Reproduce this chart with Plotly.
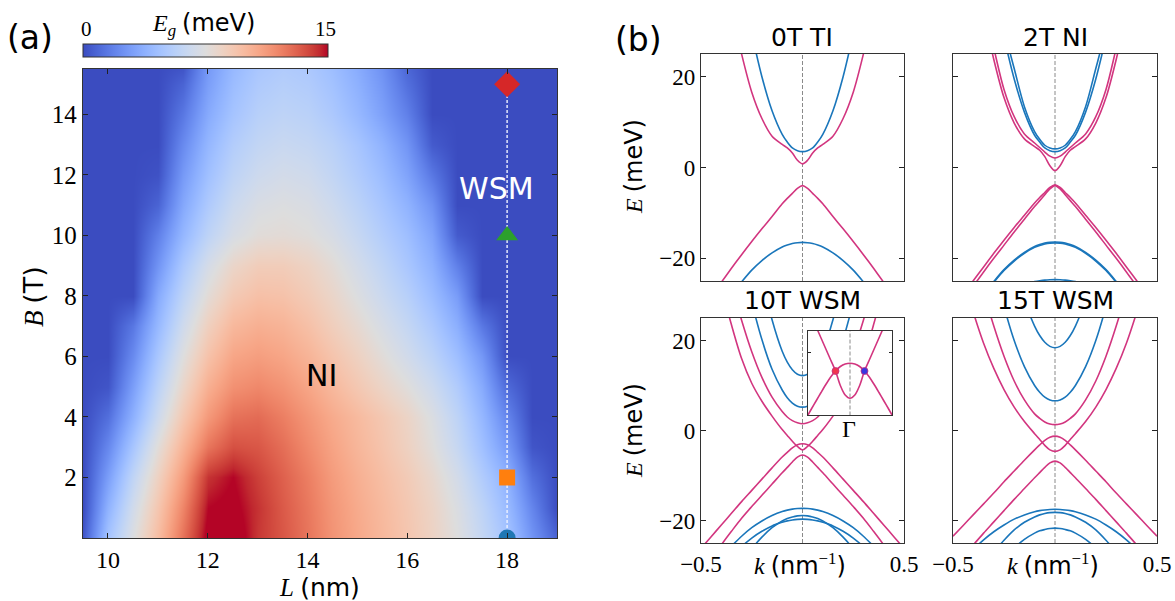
import plotly.graph_objects as go

W, H = 1175, 601
SERIF = "Liberation Serif"
SANS = "DejaVu Sans"

# ---------------- panel (a): gap map E_g(L, B) in meV ----------------
L_NM = [9.5, 10.0, 10.5, 11.0, 11.5, 12.0, 12.5, 13.0, 13.5, 14.0,
        14.5, 15.0, 15.5, 16.0, 16.5, 17.0, 17.5, 18.0, 18.5, 19.0]
B_T = [0, 1, 2, 3, 4, 5, 6, 7, 8, 9, 10, 11, 12, 13, 14, 15, 15.5]

EG_B00 = [0.3, 4.8, 7.4, 9.8, 12.6, 15.4, 15.8, 14.2, 13.4, 12.5, 11.5, 10.7, 10.0, 9.3, 8.5, 7.5, 6.2, 4.8, 2.6, 0.8]
EG_B01 = [0.0, 3.9, 6.8, 9.3, 12.0, 15.0, 15.3, 14.3, 13.3, 12.4, 11.4, 10.6, 9.9, 9.2, 8.4, 7.3, 5.9, 4.3, 2.0, 0.0]
EG_B02 = [0.0, 3.0, 6.0, 8.6, 11.2, 14.3, 15.0, 14.0, 13.1, 12.2, 11.2, 10.4, 9.7, 9.0, 8.1, 6.9, 5.3, 3.8, 1.2, 0.0]
EG_B03 = [0.0, 2.1, 4.9, 7.7, 10.2, 12.5, 13.6, 13.4, 12.7, 11.8, 10.9, 10.1, 9.4, 8.6, 7.6, 6.3, 4.6, 2.8, 0.3, 0.0]
EG_B04 = [0.0, 1.2, 3.8, 6.6, 9.2, 11.3, 12.6, 12.8, 12.2, 11.4, 10.6, 9.9, 9.2, 8.4, 7.3, 5.9, 4.1, 2.0, 0.0, 0.0]
EG_B05 = [0.0, 0.3, 3.0, 5.8, 8.3, 10.4, 11.6, 11.9, 11.5, 10.8, 10.0, 9.2, 8.4, 7.6, 6.6, 5.3, 3.5, 1.0, 0.0, 0.0]
EG_B06 = [0.0, 0.0, 2.2, 5.0, 7.5, 9.5, 10.8, 11.1, 10.8, 10.2, 9.4, 8.6, 7.7, 6.8, 5.8, 4.5, 2.7, 0.0, 0.0, 0.0]
EG_B07 = [0.0, 0.0, 1.5, 4.2, 6.7, 8.7, 10.0, 10.4, 10.2, 9.6, 8.8, 8.0, 7.1, 6.2, 5.1, 3.7, 1.5, 0.0, 0.0, 0.0]
EG_B08 = [0.0, 0.0, 0.0, 3.5, 5.9, 7.8, 9.1, 9.6, 9.5, 9.0, 8.3, 7.4, 6.5, 5.6, 4.4, 2.9, 0.0, 0.0, 0.0, 0.0]
EG_B09 = [0.0, 0.0, 0.0, 2.6, 5.1, 7.0, 8.3, 8.9, 8.9, 8.5, 7.8, 6.9, 6.0, 5.0, 3.8, 1.8, 0.0, 0.0, 0.0, 0.0]
EG_B10 = [0.0, 0.0, 0.0, 1.8, 4.1, 5.9, 7.1, 7.7, 7.8, 7.6, 7.1, 6.3, 5.4, 4.5, 3.2, 0.5, 0.0, 0.0, 0.0, 0.0]
EG_B11 = [0.0, 0.0, 0.0, 0.8, 3.4, 5.2, 6.5, 7.2, 7.4, 7.2, 6.6, 5.8, 4.9, 3.9, 2.5, 0.0, 0.0, 0.0, 0.0, 0.0]
EG_B12 = [0.0, 0.0, 0.0, 0.2, 2.8, 4.6, 5.9, 6.6, 6.9, 6.7, 6.1, 5.3, 4.4, 3.2, 1.5, 0.0, 0.0, 0.0, 0.0, 0.0]
EG_B13 = [0.0, 0.0, 0.0, 0.0, 2.2, 4.1, 5.4, 6.1, 6.4, 6.2, 5.7, 4.9, 3.9, 2.6, 0.5, 0.0, 0.0, 0.0, 0.0, 0.0]
EG_B14 = [0.0, 0.0, 0.0, 0.0, 1.5, 3.5, 4.8, 5.6, 5.9, 5.7, 5.1, 4.2, 3.1, 1.8, 0.0, 0.0, 0.0, 0.0, 0.0, 0.0]
EG_B15 = [0.0, 0.0, 0.0, 0.0, 0.8, 3.0, 4.4, 5.2, 5.5, 5.3, 4.7, 3.8, 2.7, 1.2, 0.0, 0.0, 0.0, 0.0, 0.0, 0.0]
EG_B155 = [0.0, 0.0, 0.0, 0.0, 0.3, 2.8, 4.2, 5.0, 5.3, 5.1, 4.5, 3.6, 2.5, 0.9, 0.0, 0.0, 0.0, 0.0, 0.0, 0.0]

EG_RANGE = [0, 15]
A_XTICKS = [10, 12, 14, 16, 18]
A_YTICKS = [2, 4, 6, 8, 10, 12, 14]

STATE_L = [18, 18, 18, 18]
STATE_B = [0, 2, 10, 15]
STATE_SYMBOLS = ["circle", "square", "triangle-up", "diamond"]
STATE_COLORS = ["#1f77b4", "#ff7f0e", "#2ca02c", "#d62728"]
STATE_SIZES = [17, 16, 19, 20]

# ---------------- panel (b): bands E(k), k >= 0 (bands are even in k) ----------------
K_HALF = [0, 0.025, 0.05, 0.075, 0.1, 0.15, 0.2, 0.25, 0.3, 0.35, 0.4, 0.45, 0.5]

# 0T TI
T0_BLUE_C = [3.5, 3.7, 4.3, 5.6, 7.3, 12.5, 20.0, 29.5, 40, 52, 65, 79, 94]
T0_PINK_C = [0.8, 1.6, 3.2, 4.3, 5.1, 6.9, 10.8, 16.6, 25.0, 35, 46, 58, 71]
T0_PINK_V = [-4.0, -4.6, -5.7, -6.8, -8.0, -10.8, -13.5, -16.3, -19.2, -22.2, -25.3, -28.5, -31.5]
T0_BLUE_V = [-16.5, -16.56, -16.75, -17.07, -17.5, -18.8, -20.5, -22.6, -25.2, -28, -31, -34, -37.5]

# 2T NI
T2_BLUE_C1 = [3.5, 3.7, 4.3, 5.6, 7.1, 12.2, 19.5, 28.7, 39, 51, 64, 78, 93]
T2_BLUE_C2 = [4.1, 4.3, 4.9, 6.2, 7.9, 13.4, 21.8, 30.5, 41, 53, 66, 80, 95]
T2_PINK_C1 = [-0.7, 0.4, 2.4, 3.8, 4.6, 6.3, 9.8, 15.4, 23.8, 34, 45, 57, 70]
T2_PINK_C2 = [2.1, 2.5, 3.4, 4.4, 5.4, 7.4, 11.2, 17.2, 26.3, 36, 47, 59, 72]
T2_PINK_V1 = [-3.8, -4.4, -5.5, -6.6, -7.8, -10.5, -13.2, -16.0, -18.9, -21.9, -24.9, -28.0, -31.0]
T2_PINK_V2 = [-4.0, -4.7, -6.0, -7.3, -8.6, -11.4, -14.2, -17.1, -20.0, -23.0, -26.1, -29.2, -32.3]
T2_BLUE_V1 = [-16.4, -16.46, -16.65, -16.97, -17.4, -18.7, -20.4, -22.5, -25.1, -27.9, -31, -34, -37.5]
T2_BLUE_V2 = [-16.6, -16.66, -16.85, -17.17, -17.6, -18.9, -20.6, -22.7, -25.3, -28.1, -31.2, -34.2, -37.7]
T2_BLUE_V3 = [-24.7, -24.73, -24.8, -24.93, -25.1, -25.6, -26.4, -27.3, -28.5, -30, -31.5, -33, -35]

# 10T WSM
T10_BLUE_C1 = [12.2, 12.5, 13.5, 15.2, 17.6, 24.6, 34, 45, 57, 70, 84, 99, 115]
T10_BLUE_C2 = [5.2, 5.4, 6.1, 7.3, 9.0, 13.6, 20.2, 28.5, 38, 49, 61, 74, 88]
T10_PINK_C1 = [1.5, 1.7, 2.2, 3.0, 4.2, 7.4, 11.8, 17.5, 24.5, 32.5, 41.5, 51.5, 62]
T10_PINK_C2 = [-4.35, -3.55, -2.4, -1.1, 0.2, 3.2, 6.5, 10.5, 16.0, 23.5, 32, 42, 53]
T10_PINK_V1 = [-2.95, -3.15, -3.85, -4.85, -5.9, -8.3, -10.8, -13.3, -15.8, -18.4, -21.0, -23.6, -26.2]
T10_PINK_V2 = [-5.45, -5.9, -7.0, -8.2, -9.4, -11.9, -14.4, -16.9, -19.5, -22.4, -25.4, -28.4, -31.4]
T10_BLUE_V1 = [-17.3, -17.34, -17.47, -17.69, -18.0, -18.9, -20.1, -21.6, -23.5, -25.7, -28, -30.5, -33]
T10_BLUE_V2 = [-18.9, -18.97, -19.2, -19.57, -20.1, -21.6, -23.7, -26.3, -29.5, -33, -37, -41, -45]
T10_BLUE_V3 = [-19.7, -19.74, -19.87, -20.08, -20.4, -21.2, -22.4, -23.9, -25.8, -28, -30.5, -33, -36]

# 10T inset near Gamma
INSET_K = [0, 0.01, 0.02, 0.03, 0.04, 0.05, 0.06, 0.07, 0.08, 0.09]
INSET_CAP = [-2.95, -2.98, -3.08, -3.26, -3.50, -3.80, -4.12, -4.45, -4.78, -5.12]
INSET_CUP = [-4.35, -4.22, -3.84, -3.26, -2.82, -2.38, -1.94, -1.50, -1.06, -0.62]
WEYL_K = [-0.03, 0.03]
WEYL_E = [-3.26, -3.26]

# 15T WSM
T15_BLUE_C1 = [18.4, 18.7, 19.6, 21.1, 23.2, 29, 37, 47, 59, 72, 87, 103, 120]
T15_BLUE_C2 = [6.6, 6.8, 7.4, 8.5, 10.0, 14.2, 20.0, 27.6, 37, 48, 60, 73, 87]
T15_PINK_C1 = [1.3, 1.45, 1.9, 2.7, 3.7, 6.8, 11.0, 16.5, 23.2, 31, 40, 50, 61]
T15_PINK_C2 = [-4.64, -4.3, -3.3, -2.0, -0.7, 2.0, 5.2, 9.1, 13.8, 19.4, 26.2, 34, 43]
T15_PINK_V1 = [-1.25, -1.5, -2.2, -3.2, -4.3, -6.6, -9.0, -11.4, -13.9, -16.3, -18.7, -21.1, -23.5]
T15_PINK_V2 = [-6.8, -7.2, -8.2, -9.35, -10.5, -12.9, -15.3, -17.8, -20.3, -22.8, -25.4, -28, -30.6]
T15_BLUE_V1 = [-17.5, -17.54, -17.65, -17.81, -18.05, -18.75, -19.7, -21.0, -22.5, -24.3, -26.4, -28.7, -31.2]
T15_BLUE_V2 = [-18.2, -18.26, -18.45, -18.75, -19.2, -20.4, -22.1, -24.4, -27.0, -30, -33, -36.5, -40]
T15_BLUE_V3 = [-21.7, -21.77, -22.0, -22.3, -22.8, -24.2, -26.1, -28.5, -31, -34, -37, -40, -44]

PANEL_TITLES = ["0T TI", "2T NI", "10T WSM", "15T WSM"]
E_TICKS = [-20, 0, 20]
K_TICKS = [-0.5, 0.5]

# ---------------- styles ----------------
BLUE = "#1a76bb"
PINK = "#d2357f"
COOLWARM = [
    [0.0, "rgb(59,76,192)"], [0.03125, "rgb(68,90,204)"], [0.0625, "rgb(77,104,215)"],
    [0.09375, "rgb(87,117,225)"], [0.125, "rgb(98,130,234)"], [0.15625, "rgb(108,142,241)"],
    [0.1875, "rgb(119,154,247)"], [0.21875, "rgb(130,165,251)"], [0.25, "rgb(141,176,254)"],
    [0.28125, "rgb(152,185,255)"], [0.3125, "rgb(163,194,255)"], [0.34375, "rgb(174,201,253)"],
    [0.375, "rgb(184,208,249)"], [0.40625, "rgb(194,213,244)"], [0.4375, "rgb(204,217,238)"],
    [0.46875, "rgb(213,219,230)"], [0.5, "rgb(221,221,221)"], [0.53125, "rgb(229,216,209)"],
    [0.5625, "rgb(236,211,197)"], [0.59375, "rgb(241,204,185)"], [0.625, "rgb(245,196,173)"],
    [0.65625, "rgb(247,187,160)"], [0.6875, "rgb(247,177,148)"], [0.71875, "rgb(247,166,135)"],
    [0.75, "rgb(244,154,123)"], [0.78125, "rgb(241,141,111)"], [0.8125, "rgb(236,127,99)"],
    [0.84375, "rgb(229,112,88)"], [0.875, "rgb(222,96,77)"], [0.90625, "rgb(213,80,66)"],
    [0.9375, "rgb(203,62,56)"], [0.96875, "rgb(192,40,47)"], [1.0, "rgb(180,4,38)"],
]


def px(x):
    return x / W


def py(y):
    return 1 - y / H


def mirror_k(kh):
    return [-k for k in reversed(kh[1:])] + list(kh)


def mirror_e(eh):
    return list(reversed(eh[1:])) + list(eh)


fig = go.Figure()

# ---- panel (a)
EG_ROWS = [EG_B00, EG_B01, EG_B02, EG_B03, EG_B04, EG_B05, EG_B06, EG_B07, EG_B08,
           EG_B09, EG_B10, EG_B11, EG_B12, EG_B13, EG_B14, EG_B15, EG_B155]
fig.add_trace(go.Heatmap(
    x=L_NM, y=B_T, z=EG_ROWS, zmin=EG_RANGE[0], zmax=EG_RANGE[1],
    colorscale=COOLWARM, zsmooth="best", hoverinfo="skip",
    colorbar=dict(orientation="h", x=px(83), xanchor="left", y=py(44), yanchor="top",
                  len=245, lenmode="pixels", thickness=13, thicknessmode="pixels",
                  xpad=0, ypad=0, outlinewidth=1, outlinecolor="#333",
                  showticklabels=False, ticks=""),
    xaxis="x", yaxis="y"))
fig.add_trace(go.Scatter(
    x=STATE_L, y=STATE_B, mode="lines", line=dict(color="rgba(235,240,255,0.95)", width=1.5, dash="3px,2px"),
    hoverinfo="skip", showlegend=False, xaxis="x", yaxis="y"))
fig.add_trace(go.Scatter(
    x=STATE_L, y=STATE_B, mode="markers", opacity=1,
    marker=dict(symbol=STATE_SYMBOLS, color=STATE_COLORS, size=STATE_SIZES, opacity=1, line=dict(width=0)),
    hoverinfo="skip", showlegend=False, xaxis="x", yaxis="y"))

# ---- panel (b)
KF = mirror_k(K_HALF)
panels = [
    ("x2", "y2", [(T0_BLUE_C, BLUE), (T0_BLUE_V, BLUE), (T0_PINK_C, PINK), (T0_PINK_V, PINK)]),
    ("x3", "y3", [(T2_BLUE_C1, BLUE), (T2_BLUE_C2, BLUE), (T2_BLUE_V1, BLUE), (T2_BLUE_V2, BLUE),
                  (T2_BLUE_V3, BLUE), (T2_PINK_C1, PINK), (T2_PINK_C2, PINK),
                  (T2_PINK_V1, PINK), (T2_PINK_V2, PINK)]),
    ("x4", "y4", [(T10_BLUE_C1, BLUE), (T10_BLUE_C2, BLUE), (T10_BLUE_V1, BLUE), (T10_BLUE_V2, BLUE),
                  (T10_BLUE_V3, BLUE), (T10_PINK_C1, PINK), (T10_PINK_C2, PINK),
                  (T10_PINK_V1, PINK), (T10_PINK_V2, PINK)]),
    ("x5", "y5", [(T15_BLUE_C1, BLUE), (T15_BLUE_C2, BLUE), (T15_BLUE_V1, BLUE), (T15_BLUE_V2, BLUE),
                  (T15_BLUE_V3, BLUE), (T15_PINK_C1, PINK), (T15_PINK_C2, PINK),
                  (T15_PINK_V1, PINK), (T15_PINK_V2, PINK)]),
]
for xa, ya, bands in panels:
    fig.add_trace(go.Scatter(x=[0, 0], y=[-25, 25], mode="lines",
                             line=dict(color="#8a8a8a", width=1, dash="4px,2px"),
                             hoverinfo="skip", showlegend=False, xaxis=xa, yaxis=ya))
    for eh, col in bands:
        fig.add_trace(go.Scatter(x=KF, y=mirror_e(eh), mode="lines",
                                 line=dict(color=col, width=1.6, shape="spline", smoothing=0.9),
                                 hoverinfo="skip", showlegend=False, xaxis=xa, yaxis=ya))

# inset
KI = mirror_k(INSET_K)
fig.add_trace(go.Scatter(x=[0, 0], y=[-6, 0], mode="lines",
                         line=dict(color="#8a8a8a", width=1, dash="4px,2px"),
                         hoverinfo="skip", showlegend=False, xaxis="x6", yaxis="y6"))
for eh in (INSET_CAP, INSET_CUP):
    fig.add_trace(go.Scatter(x=KI, y=mirror_e(eh), mode="lines",
                             line=dict(color=PINK, width=1.6, shape="spline", smoothing=0.9),
                             hoverinfo="skip", showlegend=False, xaxis="x6", yaxis="y6"))
fig.add_trace(go.Scatter(x=WEYL_K, y=WEYL_E, mode="markers",
                         marker=dict(color=["#f0344e", "#3a35e0"], size=7,
                                     line=dict(color="#c03080", width=0.8)),
                         hoverinfo="skip", showlegend=False, xaxis="x6", yaxis="y6"))

# ---------------- layout ----------------
frame = dict(showgrid=False, zeroline=False, showline=True, linecolor="#333", linewidth=1.3,
             mirror="ticks", ticks="inside", ticklen=5, tickcolor="#222", tickwidth=1,
             automargin=False)

layout = dict(
    width=W, height=H, margin=dict(l=0, r=0, t=0, b=0, autoexpand=False),
    paper_bgcolor="white", plot_bgcolor="white", showlegend=False,
    font=dict(family=SERIF, color="black"),
)
layout["xaxis"] = dict(frame, domain=[px(83), px(557)], range=[9.5, 19.0], anchor="y",
                       tickvals=A_XTICKS, tickfont=dict(family=SERIF, size=24, color="black"), ticklen=5)
layout["yaxis"] = dict(frame, domain=[py(538), py(69)], range=[0, 15.5], anchor="x",
                       tickvals=A_YTICKS, tickfont=dict(family=SERIF, size=25, color="black"), ticklen=5)

bx = {"x2": (701, 904), "x3": (953, 1157), "x4": (701, 904), "x5": (953, 1157)}
by = {"y2": (54, 281), "y3": (54, 281), "y4": (318, 543), "y5": (318, 543)}
for i, (xa, ya) in enumerate([("x2", "y2"), ("x3", "y3"), ("x4", "y4"), ("x5", "y5")]):
    n = xa[1:]
    bottom = i >= 2
    left = i % 2 == 0
    layout["xaxis" + n] = dict(frame, domain=[px(bx[xa][0]), px(bx[xa][1])], range=[-0.5, 0.5],
                               anchor=ya, tickvals=K_TICKS, ticktext=["\u22120.5", "0.5"],
                               showticklabels=bottom, tickfont=dict(family=SERIF, size=23, color="black"))
    layout["yaxis" + n] = dict(frame, domain=[py(by[ya][1]), py(by[ya][0])], range=[-25, 25],
                               anchor=xa, tickvals=E_TICKS, ticktext=["\u221220", "0", "20"],
                               showticklabels=left, tickfont=dict(family=SERIF, size=23, color="black"))
layout["xaxis6"] = dict(frame, domain=[px(808), px(892)], range=[-0.087, 0.087], anchor="y6",
                        tickvals=[], showticklabels=False, ticks="")
layout["yaxis6"] = dict(frame, domain=[py(415), py(331)], range=[-5.02, -1.66], anchor="x6",
                        tickvals=[-2.5], showticklabels=False, ticklen=3)

ann = []


def add_text(text, x, y, size, family=SERIF, color="black", angle=0):
    ann.append(dict(text=text, x=px(x), y=py(y), xref="paper", yref="paper", showarrow=False,
                    xanchor="center", yanchor="middle", textangle=angle,
                    font=dict(family=family, size=size, color=color)))


sans = "<span style='font-family:%s'>%s</span>"
add_text("(a)", 30, 38, 33, SANS)
add_text("(b)", 638, 40, 33, SANS)
add_text(str(EG_RANGE[0]), 86, 29, 21)
add_text(str(EG_RANGE[1]), 325, 29, 21)
add_text("<i>E<sub>g</sub></i> " + sans % (SANS, "(meV)"), 203, 25, 24)
add_text("<i>B</i> " + sans % (SANS, "(T)"), 33, 297, 27, angle=-90)
add_text("<i>L</i> " + sans % (SANS, "(nm)"), 319, 587, 25)
add_text("<i>E</i> " + sans % (SANS, "(meV)"), 634, 167, 24, angle=-90)
add_text("<i>E</i> " + sans % (SANS, "(meV)"), 634, 431, 24, angle=-90)
add_text("<i>k</i> " + sans % (SANS, "(nm") + "<sup>\u22121</sup>" + sans % (SANS, ")"), 800, 564, 24)
add_text("<i>k</i> " + sans % (SANS, "(nm") + "<sup>\u22121</sup>" + sans % (SANS, ")"), 1053, 564, 24)
add_text(PANEL_TITLES[0], 802, 38, 25, SANS)
add_text(PANEL_TITLES[1], 1055, 38, 25, SANS)
add_text(PANEL_TITLES[2], 802, 300, 25, SANS)
add_text(PANEL_TITLES[3], 1055, 300, 25, SANS)
add_text("\u0393", 849, 429, 24)
ann.append(dict(text="WSM", x=17.78, y=11.54, xref="x", yref="y", showarrow=False,
                font=dict(family=SANS, size=30, color="white")))
ann.append(dict(text="NI", x=14.27, y=5.37, xref="x", yref="y", showarrow=False,
                font=dict(family=SANS, size=30, color="black")))
layout["annotations"] = ann

fig.update_layout(**layout)
fig.write_html("out.html")
